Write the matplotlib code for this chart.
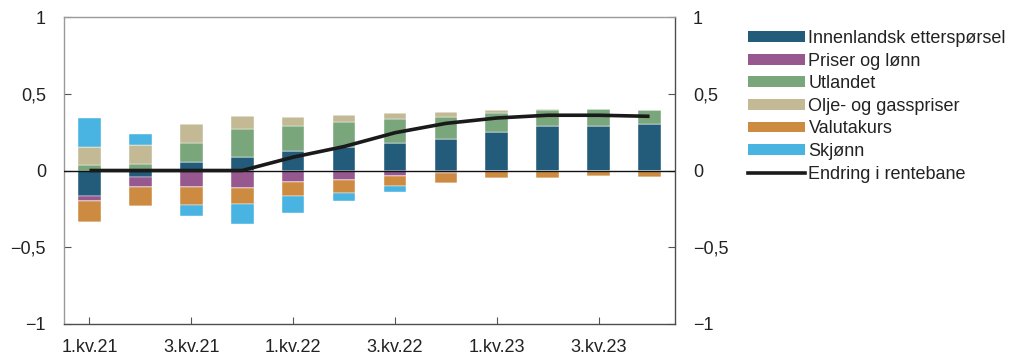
import numpy as np
import matplotlib
matplotlib.use("Agg")
import matplotlib.pyplot as plt
from matplotlib.lines import Line2D
from matplotlib.patches import Patch

plt.rcParams["font.family"] = ["Liberation Sans", "DejaVu Sans"]

# Quarters and contributions to the change in the policy-rate path (percentage points)
quarters = ["1.kv.21", "2.kv.21", "3.kv.21", "4.kv.21",
            "1.kv.22", "2.kv.22", "3.kv.22", "4.kv.22",
            "1.kv.23", "2.kv.23", "3.kv.23", "4.kv.23"]

innenlandsk = [-0.163, -0.040, 0.054, 0.091, 0.124, 0.156, 0.176, 0.202, 0.252, 0.293, 0.293, 0.300]
priser_lonn = [-0.034, -0.068, -0.108, -0.115, -0.078, -0.065, -0.037, -0.018, 0.0, 0.0, 0.0, 0.0]
utlandet = [0.037, 0.042, 0.128, 0.181, 0.169, 0.163, 0.160, 0.145, 0.124, 0.104, 0.106, 0.095]
olje_gass = [0.119, 0.125, 0.118, 0.080, 0.057, 0.041, 0.039, 0.033, 0.015, 0.004, 0.003, 0.0]
valutakurs = [-0.139, -0.124, -0.115, -0.102, -0.089, -0.080, -0.067, -0.063, -0.052, -0.046, -0.039, -0.044]
skjonn = [0.183, 0.070, -0.072, -0.130, -0.109, -0.055, -0.037, 0.0, 0.0, 0.0, 0.0, 0.0]
endring_rentebane = [0.0, 0.0, 0.0, 0.0, 0.087, 0.156, 0.246, 0.307, 0.342, 0.360, 0.360, 0.353]

series = [
    ("Innenlandsk etterspørsel", innenlandsk, "#235b7a"),
    ("Priser og lønn", priser_lonn, "#96588f"),
    ("Utlandet", utlandet, "#79a67b"),
    ("Olje- og gasspriser", olje_gass, "#c3b995"),
    ("Valutakurs", valutakurs, "#cd8b41"),
    ("Skjønn", skjonn, "#49b3e1"),
]
line_label = "Endring i rentebane"

yticks = [-1, -0.5, 0, 0.5, 1]
ytick_labels = ["\u22121", "\u22120,5", "0", "0,5", "1"]

fig = plt.figure(figsize=(10.11, 3.56), dpi=100)
ax = fig.add_axes([64 / 1011, 32 / 356, (675 - 64) / 1011, (324 - 17) / 356])

x = np.arange(len(quarters))
width = 0.445
pos_base = np.zeros(len(x))
neg_base = np.zeros(len(x))
for label, vals, color in series:
    v = np.asarray(vals, dtype=float)
    pos = np.where(v > 0, v, 0.0)
    neg = np.where(v < 0, v, 0.0)
    ax.bar(x, pos, width, bottom=pos_base, color=color, edgecolor="white",
           linewidth=0.3, zorder=2)
    ax.bar(x, neg, width, bottom=neg_base, color=color, edgecolor="white",
           linewidth=0.3, zorder=2)
    pos_base += pos
    neg_base += neg

ax.axhline(0, color="#111111", linewidth=1.0, zorder=3)
ax.plot(x, endring_rentebane, color="#1a1a1a", linewidth=2.6,
        solid_capstyle="butt", zorder=4)

ax.set_xlim(-0.5, 11.5)
ax.set_ylim(-1, 1)

ax.set_xticks(x[::2])
ax.set_xticklabels(quarters[::2])
ax.set_yticks(yticks)
ax.set_yticklabels(ytick_labels)

ax.tick_params(axis="x", direction="in", length=5, width=0.8, color="#555555",
               labelsize=13, pad=11, labelcolor="#222222")
ax.tick_params(axis="y", direction="in", length=5, width=0.8, color="#555555",
               labelsize=13, pad=13, labelcolor="#222222",
               left=True, right=True, labelleft=True, labelright=True)

for side, col in [("left", "#9a9a9a"), ("top", "#9a9a9a"),
                  ("right", "#4d4d4d"), ("bottom", "#4d4d4d")]:
    ax.spines[side].set_color(col)
    ax.spines[side].set_linewidth(1.0)

handles = [Patch(facecolor=c, edgecolor="none", label=l) for l, _, c in series]
handles.append(Line2D([0], [0], color="#1a1a1a", linewidth=2.6, label=line_label))
fig.legend(handles=handles, loc="upper left",
           bbox_to_anchor=(748 / 1011, 1 - 30 / 356),
           frameon=False, fontsize=13, handlelength=3.15, handleheight=0.55,
           handletextpad=0.2, labelspacing=0.31, borderpad=0, borderaxespad=0,
           labelcolor="#222222")

fig.savefig("out.png", dpi=100)
